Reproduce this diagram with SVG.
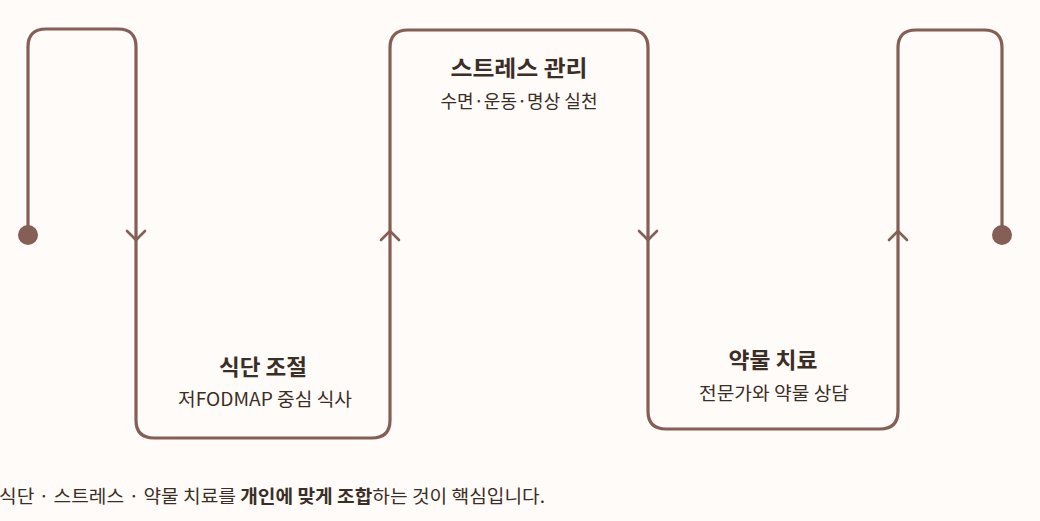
<svg xmlns="http://www.w3.org/2000/svg" width="1040" height="521" viewBox="0 0 1040 521">
<style>
.line{fill:none;stroke:#855E55;stroke-width:3.2;stroke-linejoin:round;stroke-linecap:round}
.arr{fill:none;stroke:#855E55;stroke-width:2.6;stroke-linecap:round;stroke-linejoin:round}
.t{font-family:"Noto Sans CJK KR","Noto Sans",sans-serif;fill:#3B2E26;text-anchor:middle}
.h{font-size:22px;font-weight:700}
.s{font-size:18px;font-weight:400}
.f{font-family:"Noto Sans CJK KR","Noto Sans",sans-serif;fill:#3B2E26;font-size:18px}
</style>
<rect width="1040" height="521" fill="#FFFBF8"/>
<g id="connectors">
<path class="line" d="M28,235 V47 Q28,29 46,29 H118 Q136,29 136,47 V420 Q136,438 154,438 H372 Q390,438 390,420 V48 Q390,30 408,30 H630 Q648,30 648,48 V411 Q648,429 666,429 H880 Q898,429 898,411 V48 Q898,30 916,30 H984 Q1002,30 1002,48 V235"/>
<circle cx="28" cy="235" r="10" fill="#855E55"/>
<circle cx="1002" cy="235" r="10" fill="#855E55"/>
<path class="arr" d="M127,231 L136,240 L145,231"/>
<path class="arr" d="M381,240 L390,231 L399,240"/>
<path class="arr" d="M639,231 L648,240 L657,231"/>
<path class="arr" d="M889,240 L898,231 L907,240"/>
</g>
<g id="node-diet">
<text class="t h" x="263" y="375" textLength="88" lengthAdjust="spacingAndGlyphs">식단 조절</text>
<text class="t s" x="265" y="406" textLength="174" lengthAdjust="spacingAndGlyphs">저FODMAP 중심 식사</text>
</g>
<g id="node-stress">
<text class="t h" x="519" y="76" textLength="137" lengthAdjust="spacingAndGlyphs">스트레스 관리</text>
<text class="t s" x="519" y="108" textLength="157" lengthAdjust="spacingAndGlyphs">수면·운동·명상 실천</text>
</g>
<g id="node-med">
<text class="t h" x="773" y="368" textLength="89" lengthAdjust="spacingAndGlyphs">약물 치료</text>
<text class="t s" x="774" y="400" textLength="150" lengthAdjust="spacingAndGlyphs">전문가와 약물 상담</text>
</g>
<g id="caption">
<text class="f" x="-1" y="503" textLength="546" lengthAdjust="spacingAndGlyphs">식단 · 스트레스 · 약물 치료를 <tspan font-weight="700">개인에 맞게 조합</tspan>하는 것이 핵심입니다.</text>
</g>
</svg>
